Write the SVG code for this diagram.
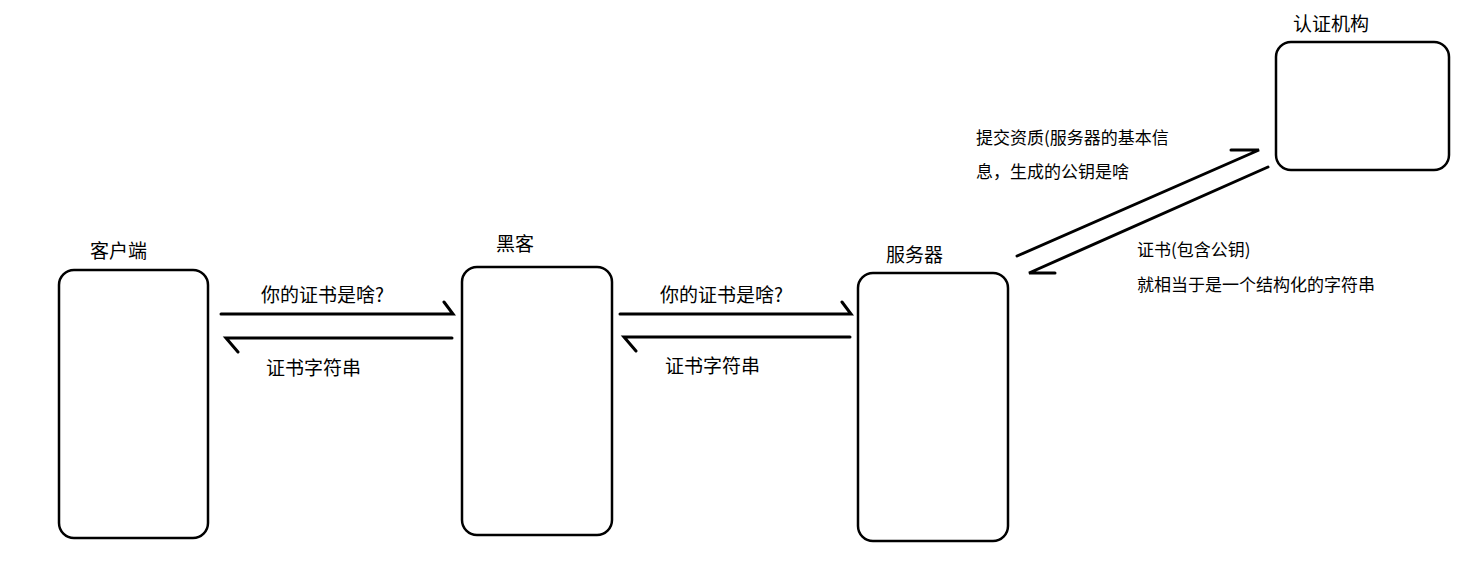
<svg xmlns="http://www.w3.org/2000/svg" width="1465" height="562" viewBox="0 0 1465 562">
<style>
.box{fill:#fff;stroke:#000;stroke-width:2.5}
.ln{fill:none;stroke:#000;stroke-width:3;stroke-linecap:round}
text{font-family:"Noto Sans CJK SC","Liberation Sans",sans-serif;fill:#000}
.t{font-size:19px}
.s{font-size:17px}
</style>
<rect width="1465" height="562" fill="#fff"/>
<g id="client"><rect class="box" x="59" y="270" width="149" height="268" rx="15"/><text class="t" x="90" y="258">客户端</text></g>
<g id="hacker"><rect class="box" x="462" y="267" width="150" height="268" rx="15"/><text class="t" x="496" y="251">黑客</text></g>
<g id="server"><rect class="box" x="858" y="273" width="150" height="268" rx="15"/><text class="t" x="886" y="262">服务器</text></g>
<g id="ca"><rect class="box" x="1276" y="42" width="173" height="128" rx="15"/><text class="t" x="1293" y="31">认证机构</text></g>
<g id="connectors">
<path class="ln" d="M221 314H453L444 302"/>
<path class="ln" d="M452 338H226L238 352"/>
<path class="ln" d="M620 314H851L842 302"/>
<path class="ln" d="M850 337H624L636 351"/>
<path class="ln" d="M1017 256L1259 150H1231"/>
<path class="ln" d="M1268 167L1029 273H1055"/>
</g>
<g id="labels">
<text class="t" x="261" y="302">你的证书是啥?</text>
<text class="t" x="266" y="375">证书字符串</text>
<text class="t" x="660" y="302">你的证书是啥?</text>
<text class="t" x="665" y="373">证书字符串</text>
<text class="s" x="976" y="144">提交资质(服务器的基本信</text>
<text class="s" x="976" y="178">息，生成的公钥是啥</text>
<text class="s" x="1137" y="256">证书(包含公钥)</text>
<text class="s" x="1137" y="291">就相当于是一个结构化的字符串</text>
</g>
</svg>
